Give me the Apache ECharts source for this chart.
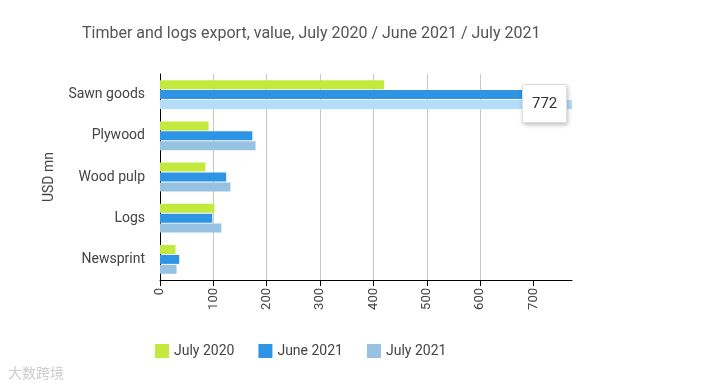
<!DOCTYPE html>
<html><head><meta charset="utf-8">
<script src="https://cdn.jsdelivr.net/npm/echarts@6/dist/echarts.min.js"></script>
<style>html,body{margin:0;padding:0;background:#fff;}#c{width:702px;height:390px;}</style>
</head><body><div id="c"></div>
<script>
const categories = ['Sawn goods', 'Plywood', 'Wood pulp', 'Logs', 'Newsprint'];
const july2020 = [420, 91, 85, 102, 29];
const june2021 = [720, 173, 124, 98, 36];
const july2021 = [772, 179, 132, 115, 31];
const seriesNames = ['July 2020', 'June 2021', 'July 2021'];
const xTicks = [0, 100, 200, 300, 400, 500, 600, 700];
const axisMax = 772;

const chart = echarts.init(document.getElementById('c'));
const font = 'Roboto, sans-serif';
function mk(name, data, color, emph) {
  return {
    name, type: 'bar', data, barWidth: 9, barGap: '10%',
    itemStyle: { color },
    emphasis: { itemStyle: { color: emph || color } }
  };
}
chart.setOption({
  animation: false,
  textStyle: { fontFamily: font },
  title: {
    text: 'Timber and logs export, value, July 2020 / June 2021 / July 2021',
    left: 77, top: 21,
    textStyle: { fontFamily: font, fontSize: 16, fontWeight: 'normal', color: '#555' }
  },
  grid: { left: 160, right: 130, top: 74, bottom: 110, containLabel: false },
  tooltip: {
    trigger: 'item', alwaysShowContent: true, triggerOn: 'none',
    formatter: p => String(p.value),
    position: () => [522, 84],
    backgroundColor: '#fff', borderColor: '#ddd', borderWidth: 1, padding: [7, 9],
    extraCssText: 'box-shadow: 1px 2px 4px rgba(0,0,0,0.25);border-radius:2px;',
    textStyle: { fontFamily: font, fontSize: 15, color: '#333' }
  },
  legend: {
    data: seriesNames, left: 150, top: 339, itemWidth: 14, itemHeight: 14, itemGap: 24,
    icon: 'rect',
    textStyle: { fontFamily: font, fontSize: 14, color: '#444' }
  },
  xAxis: {
    type: 'value', min: 0, max: axisMax, interval: 100,
    axisLine: { show: true, lineStyle: { color: '#000', width: 1 } },
    axisTick: { show: true, length: 6, lineStyle: { color: '#000' }, customValues: xTicks },
    axisLabel: { rotate: 90, margin: 8, color: '#444', fontSize: 13, fontFamily: font, customValues: xTicks },
    splitLine: { show: true, showMinLine: false, showMaxLine: false, lineStyle: { color: '#c8c8c8' } }
  },
  yAxis: {
    type: 'category', data: categories, inverse: true,
    name: 'USD mn', nameLocation: 'middle', nameGap: 104, nameRotate: 90,
    nameTextStyle: { fontFamily: font, fontSize: 14, color: '#444' },
    axisLine: { lineStyle: { color: '#000' } },
    axisTick: { alignWithLabel: true, length: 9, lineStyle: { color: '#000' } },
    axisLabel: { margin: 15, color: '#444', fontSize: 14, fontFamily: font }
  },
  graphic: [{
    type: 'text', left: 8, top: 366,
    style: { text: '大数跨境', fill: '#ccc', font: '14px "Noto Sans CJK SC"' }
  }],
  series: [
    mk(seriesNames[0], july2020, '#c3e93f'),
    mk(seriesNames[1], june2021, '#2e95e6'),
    mk(seriesNames[2], july2021, '#98c2e1', '#b3ddf8')
  ]
});
chart.dispatchAction({ type: 'highlight', seriesIndex: 2, dataIndex: 0 });
chart.dispatchAction({ type: 'showTip', seriesIndex: 2, dataIndex: 0 });
</script></body></html>
